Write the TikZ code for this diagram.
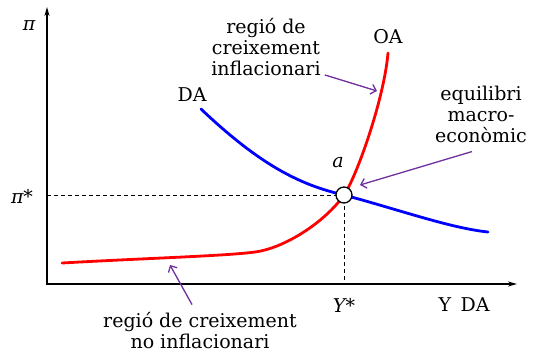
\documentclass[tikz,border=0pt]{standalone}
\usepackage{fontspec}
\setmainfont{DejaVu Serif}
\usetikzlibrary{arrows.meta, positioning, calc}
\definecolor{mypurple}{HTML}{7030A0}
\definecolor{myred}{HTML}{FF0000}
\definecolor{myblue}{HTML}{0000FF}
\tikzset{
	bigtext/.style={font=\fontsize{19}{21}\selectfont, inner sep=0pt, align=center}
}
\tikzset{
	pointer/.style={draw=mypurple, line width=1.3pt, -{Straight Barb[length=5pt, width=10pt]}}
}
\tikzset{
	axisline/.style={line width=1.6pt, {Stealth[length=9pt, width=5pt]}-{Stealth[length=9pt, width=5pt]}}
}
\tikzset{
	guide/.style={line width=0.9pt, dash pattern=on 4pt off 3pt}
}
\tikzset{
	eqdot/.style={circle, draw, fill=white, line width=1.3pt, minimum size=16pt, inner sep=0pt}
}

\begin{document}
\begin{tikzpicture}[x=1pt, y=-1pt]
\useasboundingbox (0,0) rectangle (539,354);

\coordinate (ytop) at (47,7);
\coordinate (origin) at (47,284);
\coordinate (xend) at (517,284);
\coordinate (eq) at (344,195);

% axes and guides
\draw[axisline] (ytop) -- (origin) -- (xend);
\draw[guide] (origin |- eq) -- (eq) -- (eq |- origin);

% curves
\draw[myblue, line width=2.8pt, line cap=round]
	(201,109) .. controls (260,165) and (300,185) .. (eq)
	.. controls (400,210) and (450,228) .. (488,232);
\draw[myred, line width=2.8pt, line cap=round]
	(62,263) .. controls (150,258) and (225,256) .. (255,252)
	.. controls (285,248) and (325,222) .. (eq)
	.. controls (356,178) and (384,100) .. (388,53);

\node[eqdot] (eqpt) at (eq) {};

% labels
\node[bigtext] (pilab) at (29,26) {\itshape π};
\node[bigtext] (pistar) at (22,196) {\itshape π*};
\node[bigtext] (ystar) at (344,305) {\itshape Y*};
\node[bigtext] (ylab) at (464,305) {Y\enspace DA};
\node[bigtext] (alab) at (338,163) {\itshape a};
\node[bigtext] (dalab) at (192,95) {DA};
\node[bigtext] (oalab) at (388,37) {OA};

\node[bigtext] (inflreg) at (266,47) {regió de\\creixement\\inflacionari};
\node[bigtext] (eqreg) at (481,114) {equilibri\\macro-\\econòmic};
\node[bigtext] (noinfl) at (200,331) {regió de creixement\\no inflacionari};

\coordinate (infltip) at (377,91);
\coordinate (eqtip) at (360,185);
\coordinate (noinfltip) at (170,265);

\draw[pointer] ([xshift=4pt, yshift=1pt]inflreg.south east) -- (infltip);
\draw[pointer] ([xshift=-9pt, yshift=-9pt]eqreg.south) -- (eqtip);
\draw[pointer] ([xshift=-8pt, yshift=8pt]noinfl.north) -- (noinfltip);

\end{tikzpicture}
\end{document}
